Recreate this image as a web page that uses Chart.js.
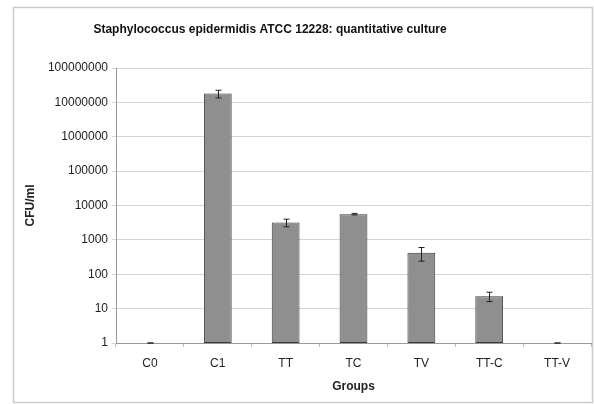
<!DOCTYPE html>
<html>
<head>
  <title>S. epidermidis quantitative culture</title>
  <script src="https://cdn.jsdelivr.net/npm/chart.js"></script>
  <style>
    body { margin: 0; background: #fff; }
  </style>
</head>
<body>
  <canvas id="chart" width="594" height="404"></canvas>

  <script>
    const groups = ["C0", "C1", "TT", "TC", "TV", "TT-C", "TT-V"];
    const cfuMeans = [1, 18000000, 3200, 5600, 420, 23, 1];
    const cfuErrors = [0, 4500000, 800, 300, 180, 7, 0];
    const yTicks = [1, 10, 100, 1000, 10000, 100000, 1000000, 10000000, 100000000];

    const FONT = "'Liberation Sans', Arial, sans-serif";

    // frame around the whole chart plus the title, drawn by hand
    const framePlugin = {
      id: "frame",
      beforeDraw(chart) {
        const ctx = chart.ctx;
        ctx.save();
        ctx.fillStyle = "#fff";
        ctx.fillRect(0, 0, chart.width, chart.height);
        ctx.strokeStyle = "#cccccc";
        ctx.lineWidth = 1.5;
        ctx.strokeRect(13.5, 7.5, 579, 395);
        ctx.fillStyle = "#111";
        ctx.font = "bold 12px " + FONT;
        ctx.textAlign = "center";
        ctx.textBaseline = "middle";
        ctx.fillText("Staphylococcus epidermidis ATCC 12228: quantitative culture", 270, 30);
        ctx.restore();
      }
    };

    const errorBarPlugin = {
      id: "errorBars",
      afterDatasetsDraw(chart) {
        const ctx = chart.ctx;
        const y = chart.scales.y;
        const meta = chart.getDatasetMeta(0);
        ctx.save();
        ctx.strokeStyle = "#222";
        ctx.lineWidth = 1;
        meta.data.forEach((bar, i) => {
          const x = Math.round(bar.x) + 0.5;
          const top = y.getPixelForValue(cfuMeans[i] + cfuErrors[i]);
          const bot = y.getPixelForValue(Math.max(1, cfuMeans[i] - cfuErrors[i]));
          ctx.beginPath();
          ctx.moveTo(x, top);
          ctx.lineTo(x, bot);
          ctx.moveTo(x - 3, top);
          ctx.lineTo(x + 3, top);
          ctx.moveTo(x - 3, bot);
          ctx.lineTo(x + 3, bot);
          ctx.stroke();
        });
        ctx.restore();
      }
    };

    const chart = new Chart(document.getElementById("chart"), {
      type: "bar",
      data: {
        labels: groups,
        datasets: [{
          data: cfuMeans,
          backgroundColor: "#8f8f8f",
          borderColor: "#3a3a3a",
          borderWidth: 1,
          borderSkipped: false,
          categoryPercentage: 1,
          barPercentage: 0.41
        }]
      },
      options: {
        responsive: false,
        animation: false,
        layout: { padding: { left: 14, right: 3, top: 68, bottom: 2 } },
        plugins: {
          legend: { display: false },
          title: { display: false },
          tooltip: { enabled: false }
        },
        scales: {
          x: {
            grid: { display: true, drawOnChartArea: false, tickLength: 4, color: "#bbb", offset: true },
            border: { color: "#999" },
            ticks: { color: "#222", font: { family: FONT, size: 12 }, padding: 9 },
            title: {
              display: true, text: "Groups", color: "#222",
              font: { family: FONT, size: 12, weight: "bold" },
              padding: { top: 0, bottom: 8 }
            },
            afterFit(scale) { scale.height = 59; }
          },
          y: {
            type: "logarithmic",
            min: 1,
            max: 100000000,
            grid: { color: "#d4d4d4", tickLength: 4 },
            border: { color: "#999" },
            afterBuildTicks(scale) {
              scale.ticks = yTicks.map(v => ({ value: v }));
            },
            ticks: {
              color: "#222",
              font: { family: FONT, size: 12 },
              padding: 4,
              callback: v => String(v)
            },
            title: {
              display: true, text: "CFU/ml", color: "#222",
              font: { family: FONT, size: 12, weight: "bold" },
              padding: { top: 9, bottom: 0 }
            },
            afterFit(scale) { scale.width = 102; }
          }
        }
      },
      plugins: [framePlugin, errorBarPlugin]
    });
  </script>
</body>
</html>
